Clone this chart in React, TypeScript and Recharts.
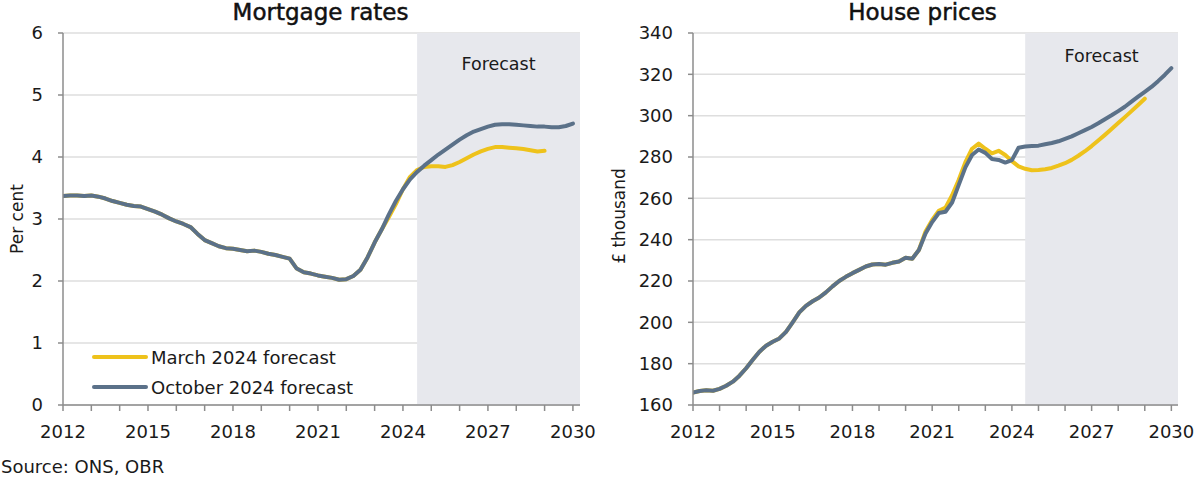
import React from 'react';
import {
  LineChart, Line, XAxis, YAxis, CartesianGrid, ReferenceArea, Legend,
} from 'recharts';

const FONT = '"DejaVu Sans", sans-serif';
const START_YEAR = 2012;
const FORECAST_START = 2024.5;
const X_END = 2030.25;

const yearTicks = [2012, 2013, 2014, 2015, 2016, 2017, 2018, 2019, 2020, 2021, 2022, 2023, 2024, 2025, 2026, 2027, 2028, 2029, 2030];
const labeledYears = [2012, 2015, 2018, 2021, 2024, 2027, 2030];
const mortgageTicks = [0, 1, 2, 3, 4, 5, 6];
const houseTicks = [160, 180, 200, 220, 240, 260, 280, 300, 320, 340];

const seriesNames = ['March 2024 forecast', 'October 2024 forecast'];
const colors = ['#EEC21B', '#5B7189'];

// quarterly values, 2012 Q1 .. 2030 Q1
const mortgageOct = [
  3.37, 3.38, 3.38, 3.37,
  3.38, 3.36, 3.33, 3.29,
  3.26, 3.23, 3.21, 3.20,
  3.16, 3.12, 3.07, 3.01,
  2.96, 2.92, 2.87, 2.76,
  2.66, 2.61, 2.56, 2.53,
  2.52, 2.50, 2.48, 2.49,
  2.47, 2.44, 2.42, 2.39,
  2.36, 2.20, 2.14, 2.12,
  2.09, 2.07, 2.05, 2.02,
  2.03, 2.08, 2.18, 2.38,
  2.62, 2.83, 3.07, 3.29,
  3.48, 3.64, 3.76, 3.86,
  3.95, 4.04, 4.12, 4.20,
  4.28, 4.35, 4.41, 4.45,
  4.49, 4.52, 4.53, 4.53,
  4.52, 4.51, 4.50, 4.49,
  4.49, 4.48, 4.48, 4.50,
  4.54,
];

const mortgageMar = [
  3.37, 3.38, 3.38, 3.37,
  3.38, 3.36, 3.33, 3.29,
  3.26, 3.23, 3.21, 3.20,
  3.16, 3.12, 3.07, 3.01,
  2.96, 2.92, 2.87, 2.76,
  2.66, 2.61, 2.56, 2.53,
  2.52, 2.50, 2.48, 2.49,
  2.47, 2.44, 2.42, 2.39,
  2.36, 2.20, 2.14, 2.12,
  2.09, 2.07, 2.05, 2.02,
  2.03, 2.08, 2.18, 2.38,
  2.62, 2.83, 3.03, 3.24,
  3.48, 3.68, 3.79, 3.84,
  3.85, 3.85, 3.84, 3.87,
  3.92, 3.98, 4.04, 4.09,
  4.13, 4.16, 4.16, 4.15,
  4.14, 4.13, 4.11, 4.09,
  4.10, null, null, null,
  null,
];

const houseOct = [
  166.0, 166.8, 167.1, 166.9,
  167.8, 169.3, 171.3, 174.2,
  177.8, 181.9, 185.8, 188.7,
  190.6, 192.2, 195.4, 200.0,
  204.8, 208.0, 210.2, 212.0,
  214.5, 217.4, 220.0, 222.0,
  223.8, 225.4, 227.0, 228.0,
  228.2, 227.9, 228.8, 229.4,
  231.2, 230.8, 235.0, 243.0,
  248.5, 252.9, 253.5, 258.0,
  266.5, 275.0, 281.0, 283.6,
  282.0, 279.0, 278.6, 277.3,
  278.5, 284.5, 285.1, 285.3,
  285.5, 286.2, 286.8, 287.6,
  288.8, 290.0, 291.5, 293.0,
  294.5, 296.3, 298.3, 300.2,
  302.2, 304.3, 306.8, 309.2,
  311.5, 313.9, 316.7, 319.7,
  323.0,
];

const houseMar = [
  166.0, 166.8, 167.1, 166.9,
  167.8, 169.3, 171.3, 174.2,
  177.8, 181.9, 185.8, 188.7,
  190.6, 192.2, 195.4, 200.0,
  204.8, 208.0, 210.2, 212.0,
  214.5, 217.4, 220.0, 222.0,
  223.8, 225.4, 227.0, 228.0,
  228.2, 227.9, 228.8, 229.4,
  231.2, 230.8, 235.0, 244.0,
  249.5, 254.0, 255.5, 261.5,
  269.0, 277.5, 284.0, 286.5,
  284.0, 281.8, 283.0, 281.0,
  278.0, 275.5, 274.3, 273.6,
  273.7, 274.1, 274.7, 275.8,
  277.0, 278.6, 280.6, 282.8,
  285.3, 288.0, 290.7, 293.5,
  296.4, 299.3, 302.2, 305.2,
  308.2, null, null, null,
  null,
];

const build = (a: (number | null)[], b: (number | null)[]) =>
  b.map((v, i) => ({ t: START_YEAR + i / 4, mar: a[i], oct: v }));

const mortgageData = build(mortgageMar, mortgageOct);
const houseData = build(houseMar, houseOct);

const tickStyle = { fontFamily: FONT, fontSize: 18, fill: '#1a1a1a' };
const axisGray = '#8C8C8C';

const LegendContent = () => (
  <svg width={320} height={64} style={{ display: 'block', overflow: 'visible' }}>
    {seriesNames.map((n, i) => (
      <g key={n}>
        <line x1={4} x2={56} y1={17 + i * 30} y2={17 + i * 30} stroke={colors[i]} strokeWidth={4} strokeLinecap="round" />
        <text x={61} y={24 + i * 30} fontFamily={FONT} fontSize={18} fill="#1a1a1a">{n}</text>
      </g>
    ))}
  </svg>
);

type PanelProps = {
  data: any[];
  domain: [number, number];
  yTicks: number[];
  yWidth: number;
  marginLeft: number;
  marginRight: number;
  forecastOffset: number;
  legend?: boolean;
};

const Panel = ({ data, domain, yTicks, yWidth, marginLeft, marginRight, forecastOffset, legend }: PanelProps) => (
  <LineChart width={600} height={478} data={data} margin={{ top: 33, right: marginRight, bottom: 43, left: marginLeft }}>
    <ReferenceArea
      x1={FORECAST_START}
      x2={X_END}
      y1={domain[0]}
      y2={domain[1]}
      fill="#E7E8ED"
      fillOpacity={1}
      stroke="none"
      ifOverflow="visible"
      label={{ value: 'Forecast', position: 'insideTop', offset: forecastOffset, fontFamily: FONT, fontSize: 17.5, fill: '#1a1a1a' }}
    />
    <CartesianGrid vertical={false} stroke="#DEDEDE" strokeWidth={1.5} />
    <XAxis
      dataKey="t"
      type="number"
      domain={[START_YEAR, X_END]}
      ticks={yearTicks}
      interval={0}
      tickFormatter={(v: number) => (labeledYears.includes(v) ? String(v) : '')}
      tick={tickStyle}
      tickSize={6}
      tickMargin={14}
      stroke={axisGray}
      strokeWidth={1.5}
      height={30}
      allowDataOverflow
    />
    <YAxis
      type="number"
      domain={domain}
      ticks={yTicks}
      interval={0}
      tick={tickStyle}
      tickSize={5}
      tickMargin={15}
      stroke={axisGray}
      strokeWidth={1.5}
      width={yWidth}
      allowDataOverflow
    />
    {legend && (
      <Legend
        layout="vertical"
        align="center"
        verticalAlign="middle"
        content={<LegendContent />}
        wrapperStyle={{ left: 90, top: 340, width: 320, height: 64 }}
      />
    )}
    <Line dataKey="mar" name={seriesNames[0]} stroke={colors[0]} strokeWidth={4} dot={false} activeDot={false} isAnimationActive={false} connectNulls={false} strokeLinejoin="round" strokeLinecap="round" />
    <Line dataKey="oct" name={seriesNames[1]} stroke={colors[1]} strokeWidth={4} dot={false} activeDot={false} isAnimationActive={false} strokeLinejoin="round" strokeLinecap="round" />
  </LineChart>
);

export default function App() {
  return (
    <div style={{ position: 'absolute', left: 0, top: 0, width: 1200, height: 478, background: '#fff', overflow: 'hidden' }}>
      <div style={{ position: 'absolute', left: 0, top: 0 }}>
        <Panel data={mortgageData} domain={[0, 6]} yTicks={mortgageTicks} yWidth={50} marginLeft={13} marginRight={20} forecastOffset={25} legend />
      </div>
      <div style={{ position: 'absolute', left: 600, top: 0 }}>
        <Panel data={houseData} domain={[160, 340]} yTicks={houseTicks} yWidth={60} marginLeft={33} marginRight={22} forecastOffset={17} />
      </div>
      <svg width={1200} height={478} style={{ position: 'absolute', left: 0, top: 0, pointerEvents: 'none' }}>
        <text x={320.5} y={20} textAnchor="middle" fontFamily={FONT} fontSize={23} fill="#111" stroke="#111" strokeWidth={0.5}>Mortgage rates</text>
        <text x={922.5} y={20} textAnchor="middle" fontFamily={FONT} fontSize={23} fill="#111" stroke="#111" strokeWidth={0.5}>House prices</text>
        <text transform="translate(23,219) rotate(-90)" textAnchor="middle" fontFamily={FONT} fontSize={17} fill="#1a1a1a">Per cent</text>
        <text transform="translate(625,216) rotate(-90)" textAnchor="middle" fontFamily={FONT} fontSize={17} fill="#1a1a1a">£ thousand</text>
        <text x={1} y={473} fontFamily={FONT} fontSize={18} fill="#1a1a1a">Source: ONS, OBR</text>
      </svg>
    </div>
  );
}
